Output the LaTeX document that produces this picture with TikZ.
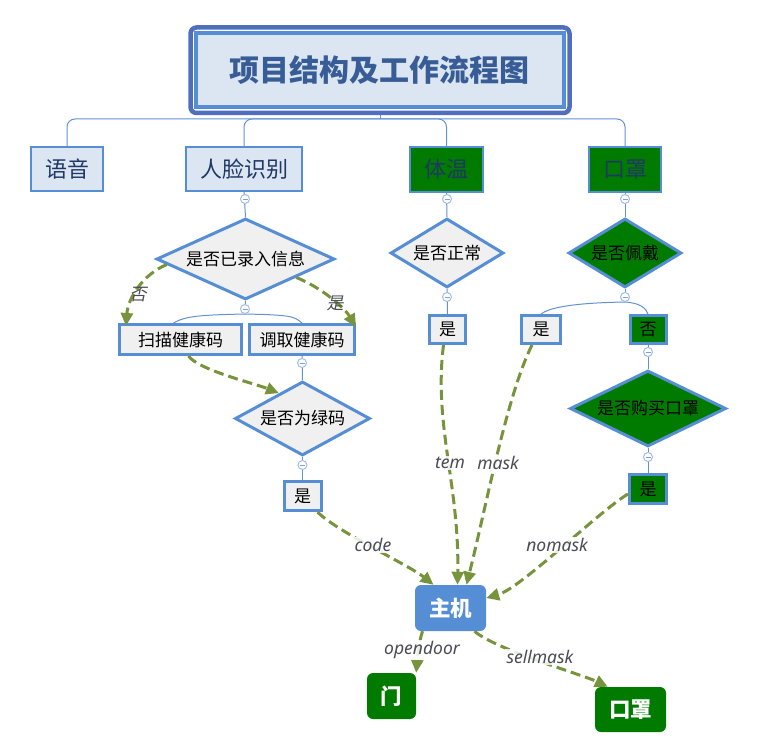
\documentclass[tikz,border=0pt]{standalone}
\usepackage{fontspec}
\setmainfont{Noto Sans CJK SC}
\newfontfamily\cjkit{Noto Sans CJK SC}[FakeSlant=0.2]
\newfontfamily\labfont{Noto Sans}
\usetikzlibrary{shapes.geometric,arrows.meta}
\pgfdeclarelayer{background}
\pgfsetlayers{background,main}
\definecolor{bord}{RGB}{85,142,213}
\definecolor{titleouter}{RGB}{79,111,190}
\definecolor{lightfill}{RGB}{220,230,242}
\definecolor{grayfill}{RGB}{240,240,240}
\definecolor{grn}{RGB}{0,123,0}
\definecolor{olive}{RGB}{119,147,60}
\definecolor{navy}{RGB}{31,56,100}
\definecolor{titletext}{RGB}{56,93,150}
\definecolor{treeline}{RGB}{100,145,212}
\definecolor{circline}{RGB}{160,190,232}
\definecolor{minuscol}{RGB}{130,160,210}
\definecolor{labgray}{RGB}{75,75,85}
\tikzset{
 topbox/.style={draw=bord, line width=2.2pt, inner sep=0pt, text=navy, font=\fontsize{22}{24}\selectfont},
 subbox/.style={draw=bord, line width=3pt, fill=grayfill, inner sep=0pt, font=\fontsize{17}{19}\selectfont},
 decis/.style={diamond, draw=bord, line width=3pt, fill=grayfill, inner sep=0pt, font=\fontsize{17}{19}\selectfont},
 endbox/.style={rounded corners=6pt, inner sep=0pt, text=white, font=\bfseries\fontsize{21.5}{23}\selectfont},
 flow/.style={draw=olive, line width=3pt, dash pattern=on 10pt off 5pt, -{Triangle[length=13pt,width=12pt]}},
 tree/.style={draw=treeline, line width=1pt},
 fold/.style={circle, draw=circline, fill=white, line width=1pt, minimum size=9pt, inner sep=0pt,
   path picture={\draw[minuscol, line width=0.8pt] ([xshift=-2.5pt]path picture bounding box.center) -- ([xshift=2.5pt]path picture bounding box.center);}},
 flowlab/.style={fill=white, fill opacity=0.85, text opacity=1, text=labgray, inner sep=1.5pt, font=\labfont\itshape\fontsize{17.5}{19}\selectfont},
 cjklab/.style={text=labgray, inner sep=1pt, font=\cjkit\fontsize{17}{19}\selectfont},
}
\begin{document}
\begin{tikzpicture}[x=1pt,y=1pt]
\useasboundingbox (0,0) rectangle (763,-754);
% title
\node[draw=titleouter, line width=4.5pt, rounded corners=6pt, minimum width=379pt, minimum height=85.5pt, inner sep=0pt] (titleframe) at (380,-70.25) {};
\node[draw=bord, line width=4pt, fill=lightfill, minimum width=367.5pt, minimum height=74.5pt, inner sep=0pt, text=titletext, font=\bfseries\fontsize{30}{32}\selectfont] (title) at (379.75,-70.25) {项目结构及工作流程图};
\coordinate (hub) at (380,-119);
% top level
\node[topbox, fill=lightfill, minimum width=72pt, minimum height=44pt] (voice) at (67,-169) {语音};
\node[topbox, fill=lightfill, minimum width=116pt, minimum height=44pt] (face) at (244,-169) {人脸识别};
\node[topbox, fill=grn, minimum width=73pt, minimum height=45pt] (temp) at (446.5,-169.5) {体温};
\node[topbox, fill=grn, minimum width=72pt, minimum height=45pt] (maskt) at (625,-169.5) {口罩};
% face branch
\node[decis, minimum width=178pt, minimum height=81pt, aspect=2.2] (d1) at (245.5,-259) {是否已录入信息};
\node[subbox, minimum width=122pt, minimum height=30pt] (scan) at (180.5,-339.5) {扫描健康码};
\node[subbox, minimum width=105pt, minimum height=30pt] (fetch) at (302,-339.5) {调取健康码};
\node[decis, minimum width=135pt, minimum height=74pt, aspect=1.8] (d2) at (302.5,-418.5) {是否为绿码};
\node[subbox, minimum width=37pt, minimum height=29pt] (yes2) at (302.5,-496) {是};
% temperature branch
\node[decis, minimum width=113pt, minimum height=69pt, aspect=1.6] (d3) at (447,-253) {是否正常};
\node[subbox, minimum width=36pt, minimum height=28pt] (yes3) at (447.5,-329.5) {是};
% mask branch
\node[decis, fill=grn, minimum width=113pt, minimum height=69pt, aspect=1.6] (d4) at (625,-253) {是否佩戴};
\node[subbox, minimum width=39pt, minimum height=28pt] (yes4) at (541,-329.5) {是};
\node[subbox, fill=grn, minimum width=36pt, minimum height=28pt] (no) at (648,-329.5) {否};
\node[decis, fill=grn, minimum width=156pt, minimum height=76pt, aspect=2] (d5) at (648,-408.5) {是否购买口罩};
\node[subbox, fill=grn, minimum width=37pt, minimum height=29pt] (yes5) at (648,-489) {是};
% outputs
\node[endbox, fill=bord, minimum width=71pt, minimum height=46pt] (host) at (450.5,-608) {主机};
\node[endbox, fill=grn, minimum width=49pt, minimum height=46pt] (door) at (391.5,-696) {门};
\node[endbox, fill=grn, minimum width=71pt, minimum height=45pt] (mask2) at (630.5,-709.5) {口罩};
% tree lines
\begin{pgfonlayer}{background}
\draw[tree] (titleframe.south) -- (hub);
\draw[tree, rounded corners=8pt] (voice.north) |- (hub);
\draw[tree, rounded corners=8pt] (face.north) |- (hub);
\draw[tree, rounded corners=8pt] (temp.north) |- (hub);
\draw[tree, rounded corners=8pt] (maskt.north) |- (hub);
\draw[tree] (face.south) -- (d1.north);
\draw[tree] (fetch.south) -- (d2.north);
\draw[tree] (d2.south) -- (yes2.north);
\draw[tree] (temp.south) -- (d3.north);
\draw[tree] (d3.south) -- (yes3.north);
\draw[tree] (maskt.south) -- (d4.north);
\draw[tree] (no.south) -- (d5.north);
\draw[tree] (d5.south) -- (yes5.north);
\end{pgfonlayer}
% fold markers
\node[fold] (f1) at (245,-199) {};
\node[fold] (f2) at (245,-309) {};
\node[fold] (f3) at (302,-363) {};
\node[fold] (f4) at (302.5,-465) {};
\node[fold] (f5) at (447,-199) {};
\node[fold] (f6) at (447,-297) {};
\node[fold] (f7) at (625,-199) {};
\node[fold] (f8) at (625,-297) {};
\node[fold] (f9) at (648,-352) {};
\node[fold] (f10) at (648,-457) {};
\begin{pgfonlayer}{background}
\draw[tree] (d1.south) -- (f2);
\draw[tree] (f2.south) .. controls +(-45,-1) and +(12,7) .. ([xshift=-7pt]scan.north);
\draw[tree] (f2.south) .. controls +(45,-1) and +(-8,7) .. (fetch.north);
\draw[tree] (d4.south) -- (f8);
\draw[tree] (f8.south) .. controls +(-55,-1) and +(8,6) .. (yes4.north);
\draw[tree] (f8.south) .. controls +(15,-1) and +(-2,6) .. (no.north);
\end{pgfonlayer}
% flow arrows
\draw[flow] (d1.184) .. controls +(-24,-10) and +(2,28) .. ([xshift=8pt,yshift=-3pt]scan.north west);
\draw[flow] (d1.340) .. controls +(25,-10) and +(-12,20) .. ([yshift=-4pt]fetch.north east);
\draw[flow] ([xshift=8pt]scan.south) .. controls +(10,-14) and +(-25,10) .. (d2.133);
\draw[flow] ([xshift=-5pt]yes2.south east) .. controls +(20,-20) and +(-25,20) .. ([xshift=-17pt]host.north);
\draw[flow] ([xshift=-4pt]yes3.south) .. controls +(-10,-80) and +(2,100) .. ([xshift=7pt]host.north);
\draw[flow] ([xshift=-9pt]yes4.south) .. controls +(-25,-50) and +(20,80) .. ([xshift=16pt]host.north);
\draw[flow] ([yshift=-5pt]yes5.west) .. controls +(-30,-18) and +(35,10) .. ([yshift=10pt]host.east);
\draw[flow] ([xshift=-28pt]host.south) .. controls +(-4,-12) and +(1,12) .. (door.north east);
\draw[flow] ([xshift=24pt]host.south) .. controls +(20,-18) and +(-25,12) .. ([xshift=13pt]mask2.north west);
% labels
\node[cjklab] (lno) at (138,-295) {否};
\node[cjklab] (lyes) at (335,-303) {是};
\node[flowlab] (lcode) at (373,-545) {code};
\node[flowlab] (ltem) at (450,-463) {tem};
\node[flowlab] (lmask) at (498,-463) {mask};
\node[flowlab] (lnomask) at (557,-545) {nomask};
\node[flowlab] (lopen) at (422,-650) {opendoor};
\node[flowlab] (lsell) at (540,-657) {sellmask};
\end{tikzpicture}
\end{document}
